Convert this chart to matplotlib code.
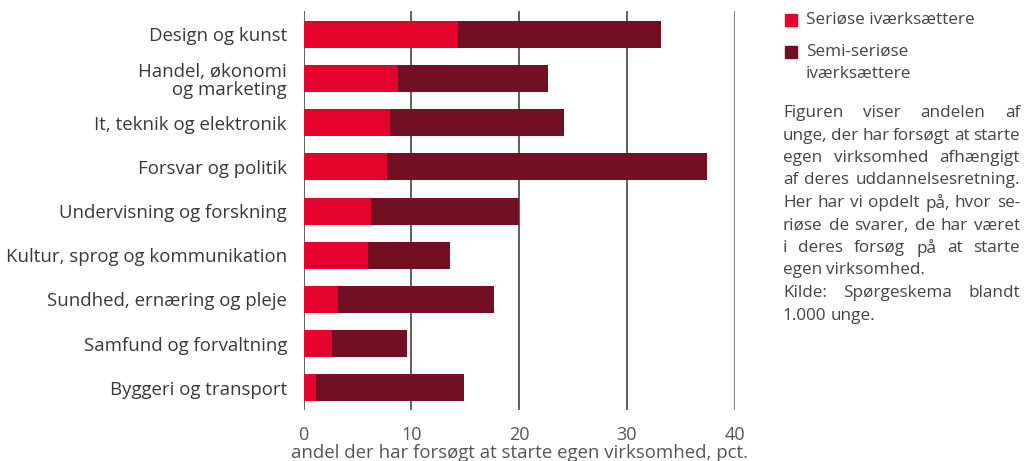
import matplotlib
matplotlib.use("Agg")
import matplotlib.pyplot as plt
import numpy as np

# Data (pct.)
kategorier = [
    "Design og kunst",
    "Handel, økonomi\nog marketing",
    "It, teknik og elektronik",
    "Forsvar og politik",
    "Undervisning og forskning",
    "Kultur, sprog og kommunikation",
    "Sundhed, ernæring og pleje",
    "Samfund og forvaltning",
    "Byggeri og transport",
]
serioese = [14.3, 8.8, 8.0, 7.7, 6.3, 6.0, 3.2, 2.6, 1.2]
totaler = [33.2, 22.7, 24.2, 37.4, 20.0, 13.6, 17.7, 9.6, 14.9]
semi_serioese = [t - s for t, s in zip(totaler, serioese)]

x_ticks = [0, 10, 20, 30, 40]

legend_labels = ["Seriøse iværksættere", "Semi-seriøse\niværksættere"]

tekst_linjer = [
    "Figuren viser andelen af",
    "unge, der har forsøgt at starte",
    "egen virksomhed afhængigt",
    "af deres uddannelsesretning.",
    "Her har vi opdelt på, hvor se-",
    "riøse de svarer, de har været",
    "i deres forsøg på at starte",
    "egen virksomhed.",
    "Kilde: Spørgeskema blandt",
    "1.000 unge.",
]
sidste_linjer = {7, 9}   # ikke-justerede linjer (afsnitsslut)

RED = "#E4032D"
DARK = "#730F22"
TXT = "#383838"

plt.rcParams["font.family"] = ["Open Sans", "DejaVu Sans"]

fig = plt.figure(figsize=(10.29, 4.61), dpi=100)
ax = fig.add_axes([0.295, 0.11, 0.419, 0.866])

y = np.arange(len(kategorier))
ax.barh(y, serioese, height=0.61, color=RED, zorder=3)
ax.barh(y, semi_serioese, left=serioese, height=0.61, color=DARK, zorder=3)

ax.set_ylim(len(kategorier) - 0.49, -0.53)
ax.set_xlim(0, 40)
ax.set_yticks(y)
ax.set_yticklabels(kategorier, fontsize=13.4, color=TXT, linespacing=1.0)
ax.set_xticks(x_ticks)
ax.set_xticklabels([str(v) for v in x_ticks], fontsize=13, color="#555555")
ax.tick_params(length=0, pad=11)
ax.tick_params(axis="y", pad=12)
ax.grid(axis="x", color="#444444", linewidth=1.2, zorder=0)
ax.get_xgridlines()[-1].set_color("#8a8a8a")
ax.get_xgridlines()[-1].set_linewidth(1.5)
for s in ax.spines.values():
    s.set_visible(False)
ax.set_xlabel("andel der har forsøgt at starte egen virksomhed, pct.",
              fontsize=13.4, color="#555555", labelpad=0)

# Legende
leg_y = [1 - 20 / 461, 1 - 52 / 461]
for farve, tekst, ly in zip([RED, DARK], legend_labels, leg_y):
    fig.patches.append(plt.Rectangle((785 / 1029, ly - 6 / 461), 12 / 1029, 12 / 461,
                                     transform=fig.transFigure, color=farve))
    fig.text(806 / 1029, ly + 8 / 461, tekst, fontsize=12.3, color="#444444",
             va="top", linespacing=1.5)

# Justeret tekstblok
x0, x1 = 783 / 1029, 1020 / 1029
renderer = fig.canvas.get_renderer()
for i, linje in enumerate(tekst_linjer):
    ly = 1 - (113 + 22.5 * i) / 461
    ord_ = linje.split(" ")
    tekster = [fig.text(x0, ly, w, fontsize=12.3, color="#444444", va="center")
               for w in ord_]
    if i in sidste_linjer or len(ord_) < 2:
        gap = 4 / 1029
    else:
        bredder = [t.get_window_extent(renderer).width / fig.bbox.width for t in tekster]
        gap = (x1 - x0 - sum(bredder)) / (len(ord_) - 1)
    xp = x0
    for t in tekster:
        t.set_x(xp)
        xp += t.get_window_extent(renderer).width / fig.bbox.width + gap

fig.savefig("out.png", dpi=100)
